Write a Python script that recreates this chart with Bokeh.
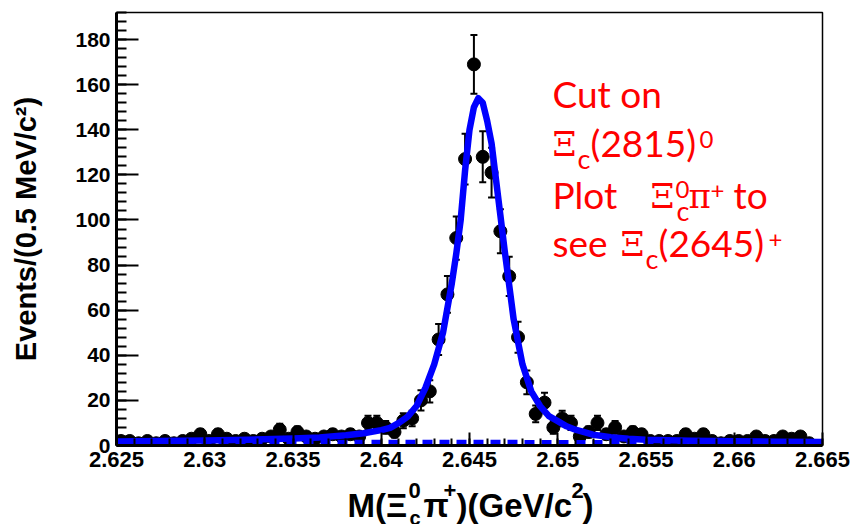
import numpy as np
from bokeh.plotting import figure
from bokeh.layouts import column
from bokeh.models import FixedTicker, Range1d, Label, Whisker, TeeHead, ColumnDataSource
from bokeh.embed import file_html
from bokeh.resources import INLINE

# ---- data ----
bin_start = 2.625
bin_width = 0.0005
counts = [2, 2, 1, 2, 1, 2, 1, 2, 3, 5,
          2, 5, 3, 2, 3, 2, 3, 4, 7, 3,
          6, 4, 3, 4, 5, 4, 5, 4, 10, 10,
          8, 6, 11, 12, 20, 24, 47, 67, 92, 127,
          169, 128, 121, 95, 75, 48, 28, 14, 19, 8,
          12, 10, 4, 6, 10, 5, 8, 4, 6, 5,
          2, 2, 2, 2, 5, 3, 5, 2, 1, 2,
          2, 2, 4, 2, 2, 4, 3, 4, 1, 0]

fit_x = [2.6250, 2.6275, 2.6300, 2.6325, 2.6350, 2.6365, 2.6380, 2.6390, 2.6400,
         2.6405, 2.6410, 2.6415, 2.6420, 2.6425, 2.6430, 2.6435, 2.6440, 2.64425,
         2.6445, 2.64475, 2.6450, 2.64525, 2.6455, 2.64575, 2.6460, 2.64625, 2.6465,
         2.64675, 2.6470, 2.6475, 2.6480, 2.6485, 2.6490, 2.6495, 2.6500, 2.6505,
         2.6510, 2.6520, 2.6530, 2.6540, 2.6550, 2.6575, 2.6600, 2.6625, 2.6650]
fit_y = [1.8, 2.0, 2.2, 2.6, 3.1, 3.6, 4.5, 5.4, 6.8,
         7.8, 10.0, 12.8, 17.5, 25.5, 36, 50, 72, 85,
         100, 122, 140, 150, 154, 152, 144, 134, 118,
         102, 86, 56, 36, 24, 17.5, 13, 10.8, 8.5,
         7.0, 4.8, 3.7, 3.0, 2.6, 2.1, 1.9, 1.7, 1.6]

bkg_x = [2.625, 2.665]
bkg_y = [1.5, 1.3]

x_ticks = [2.625, 2.63, 2.635, 2.64, 2.645, 2.65, 2.655, 2.66, 2.665]
x_tick_labels = ["2.625", "2.63", "2.635", "2.64", "2.645", "2.65", "2.655", "2.66", "2.665"]
y_ticks = [0, 20, 40, 60, 80, 100, 120, 140, 160, 180]
y_tick_labels = ["0", "20", "40", "60", "80", "100", "120", "140", "160", "180"]

# ---- derived ----
centers = [bin_start + bin_width * (k + 0.5) for k in range(len(counts))]
err = [np.sqrt(c) for c in counts]
src = ColumnDataSource(dict(
    x=[c for c, n in zip(centers, counts) if n > 0],
    y=[n for n in counts if n > 0],
    lo=[n - e for n, e in zip(counts, err) if n > 0],
    hi=[n + e for n, e in zip(counts, err) if n > 0],
))

W = 854
TOP_H = 480          # main figure height
BOT_H = 44           # strip for the composed x-axis title

p = figure(width=W, height=TOP_H,
           x_range=Range1d(2.625, 2.665), y_range=Range1d(0, 192),
           output_backend="svg", toolbar_location=None,
           min_border_left=116, min_border_right=32,
           min_border_top=12, min_border_bottom=TOP_H - 445)
p.background_fill_color = "white"
p.border_fill_color = "white"
p.grid.visible = False
p.outline_line_color = "black"
p.outline_line_width = 1.5

AX_FONT = "Liberation Sans"
p.xaxis.ticker = FixedTicker(ticks=x_ticks,
                             minor_ticks=[round(2.625 + 0.001 * i, 4) for i in range(41)])
p.xaxis.major_label_overrides = {t: l for t, l in zip(x_ticks, x_tick_labels)}
p.yaxis.ticker = FixedTicker(ticks=y_ticks, minor_ticks=list(range(0, 193, 4)))
p.yaxis.major_label_overrides = {t: l for t, l in zip(y_ticks, y_tick_labels)}
for ax in (p.xaxis, p.yaxis):
    ax.axis_line_width = 3
    ax.axis_line_color = "black"
    ax.major_tick_out = 0
    ax.minor_tick_out = 0
    ax.major_tick_line_width = 2
    ax.minor_tick_line_width = 2
    ax.major_label_text_font = AX_FONT
    ax.major_label_text_font_style = "bold"
    ax.major_label_text_color = "black"
p.xaxis.major_tick_in = 13
p.xaxis.minor_tick_in = 7
p.xaxis.major_label_text_font_size = "22px"
p.xaxis.major_label_standoff = 6
p.yaxis.major_tick_in = 22
p.yaxis.minor_tick_in = 10
p.yaxis.major_label_text_font_size = "21px"
p.yaxis.major_label_standoff = 6
p.yaxis.axis_label = "Events/(0.5 MeV/c²)"
p.yaxis.axis_label_text_font = AX_FONT
p.yaxis.axis_label_text_font_style = "bold"
p.yaxis.axis_label_text_font_size = "29px"
p.yaxis.axis_label_text_color = "black"
p.yaxis.axis_label_standoff = 30

# data points with error bars
p.add_layout(Whisker(base="x", lower="lo", upper="hi", source=src, dimension="height",
                     line_color="black", line_width=2,
                     lower_head=TeeHead(size=7, line_width=2, line_color="black"),
                     upper_head=TeeHead(size=7, line_width=2, line_color="black")))
p.scatter("x", "y", source=src, size=13, color="black")

# fit curves
p.line(bkg_x, bkg_y, line_color="#0000ff", line_width=5, line_dash="10 7")
p.line(fit_x, fit_y, line_color="#0000ff", line_width=6.5, line_join="round")


def put(fig, text, sx, sy, size, font, color="red", style="normal"):
    # baseline correction: Bokeh places the 'alphabetic' line a bit lower
    fig.add_layout(Label(x=sx, y=sy + 0.35 * size, x_units="screen", y_units="screen",
                         text=text, text_font=font, text_font_size=f"{size}px",
                         text_color=color, text_font_style=style,
                         text_baseline="alphabetic", text_align="left"))


# red annotation (page pixel -> frame-relative screen units)
FL, FB = 116, 445
def red(text, px, py, size, font):
    put(p, text, px - FL, FB - py, size, font)

TF = "Lato"
GF = "DejaVu Serif"
red("Cut on", 552, 106, 37, TF)
red("Ξ", 552, 155, 34, GF)
red("c", 577, 167, 27, TF)
red("(2815)", 590, 155, 37, TF)
red("0", 699, 147, 24, TF)
red("Plot", 552, 207, 37, TF)
red("Ξ", 650, 207, 34, GF)
red("0", 675, 197, 24, TF)
red("c", 676, 219, 27, TF)
red("π", 688, 207, 34, GF)
red("+", 710, 198, 24, TF)
red("to", 733, 207, 37, TF)
red("see", 552, 255, 37, TF)
red("Ξ", 620, 255, 34, GF)
red("c", 645, 267, 27, TF)
red("(2645)", 658, 255, 37, TF)
red("+", 768, 247, 24, TF)

# strip below holding the x-axis title with sub/superscripts
q = figure(width=W, height=BOT_H, x_range=p.x_range, y_range=Range1d(0, 1),
           output_backend="svg", toolbar_location=None,
           x_axis_location=None, y_axis_location=None,
           min_border=0)
q.grid.visible = False
q.outline_line_color = None
q.background_fill_color = "white"
q.border_fill_color = "white"

QB = TOP_H + BOT_H
def xt(text, px, py, size):
    # the strip's frame is aligned with the main frame (left edge at FL)
    put(q, text, px - FL, QB - py, size, AX_FONT, "black", "bold")

xt("M(Ξ", 347, 517, 33)
xt("0", 408, 498, 22)
xt("c", 409, 524, 20)
xt("π", 423, 517, 33)
xt("+", 443, 498, 22)
xt(")(GeV/c", 456, 517, 33)
xt("2", 571, 498, 22)
xt(")", 582, 517, 33)

layout = column(p, q, spacing=0)
open("out.html", "w").write(file_html(layout, INLINE))
